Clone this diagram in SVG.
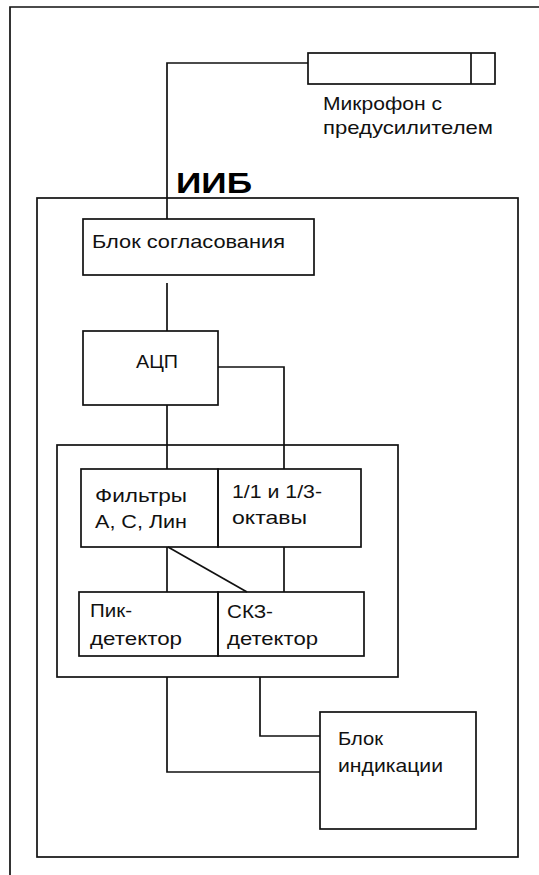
<svg xmlns="http://www.w3.org/2000/svg" width="539" height="875" viewBox="0 0 539 875">
<style>
.b{fill:none;stroke:#111;stroke-width:1.7}
.c{fill:none;stroke:#111;stroke-width:1.7}
.t{font-family:"Liberation Sans",Arial,sans-serif;font-size:19px;fill:#111}
.h{font-family:"Liberation Sans",Arial,sans-serif;font-size:29px;font-weight:bold;fill:#000}
</style>
<rect width="539" height="875" fill="#fff"/>
<path class="b" d="M10,875 V7 H540"/>
<g id="mic">
<rect class="b" x="308" y="53" width="187" height="31"/>
<line class="b" x1="471" y1="53" x2="471" y2="84"/>
<text class="t" x="323" y="110" textLength="119" lengthAdjust="spacingAndGlyphs">Микрофон с</text>
<text class="t" x="323" y="134" textLength="170" lengthAdjust="spacingAndGlyphs">предусилителем</text>
</g>
<g id="iib">
<rect class="b" x="37" y="198" width="481" height="659"/>
<text class="h" x="176" y="193" textLength="76" lengthAdjust="spacingAndGlyphs">ИИБ</text>
</g>
<g id="match">
<rect class="b" x="83" y="219" width="231" height="56"/>
<text class="t" x="92" y="248" textLength="193" lengthAdjust="spacingAndGlyphs">Блок согласования</text>
</g>
<g id="adc">
<rect class="b" x="83" y="331" width="135" height="74"/>
<text class="t" x="136" y="368" textLength="42" lengthAdjust="spacingAndGlyphs">АЦП</text>
</g>
<g id="inner">
<rect class="b" x="57" y="445" width="341" height="232"/>
</g>
<g id="filters">
<rect class="b" x="81" y="469" width="137" height="78"/>
<text class="t" x="95" y="502" textLength="92" lengthAdjust="spacingAndGlyphs">Фильтры</text>
<text class="t" x="95" y="528" textLength="92" lengthAdjust="spacingAndGlyphs">А, С, Лин</text>
</g>
<g id="octaves">
<rect class="b" x="218" y="469" width="143" height="78"/>
<text class="t" x="232" y="498" textLength="90" lengthAdjust="spacingAndGlyphs">1/1 и 1/3-</text>
<text class="t" x="232" y="524" textLength="75" lengthAdjust="spacingAndGlyphs">октавы</text>
</g>
<g id="peak">
<rect class="b" x="79" y="592" width="139" height="64"/>
<text class="t" x="90" y="617" textLength="42" lengthAdjust="spacingAndGlyphs">Пик-</text>
<text class="t" x="90" y="645" textLength="92" lengthAdjust="spacingAndGlyphs">детектор</text>
</g>
<g id="rms">
<rect class="b" x="218" y="592" width="146" height="64"/>
<text class="t" x="227" y="618" textLength="46" lengthAdjust="spacingAndGlyphs">СКЗ-</text>
<text class="t" x="227" y="645" textLength="91" lengthAdjust="spacingAndGlyphs">детектор</text>
</g>
<g id="indicator">
<rect class="b" x="320" y="712" width="156" height="117"/>
<text class="t" x="338" y="745" textLength="45" lengthAdjust="spacingAndGlyphs">Блок</text>
<text class="t" x="338" y="772" textLength="105" lengthAdjust="spacingAndGlyphs">индикации</text>
</g>
<g id="connectors">
<path class="c" d="M308,63 H167 V219"/>
<path class="c" d="M167,283 V331"/>
<path class="c" d="M167,405 V469"/>
<path class="c" d="M218,367 H284 V469"/>
<path class="c" d="M167,547 V592"/>
<path class="c" d="M284,547 V592"/>
<path class="c" d="M168,547 L247,592" stroke-width="1.2"/>
<path class="c" d="M167,677 V772 H320"/>
<path class="c" d="M260,677 V736 H320"/>
</g>
</svg>
